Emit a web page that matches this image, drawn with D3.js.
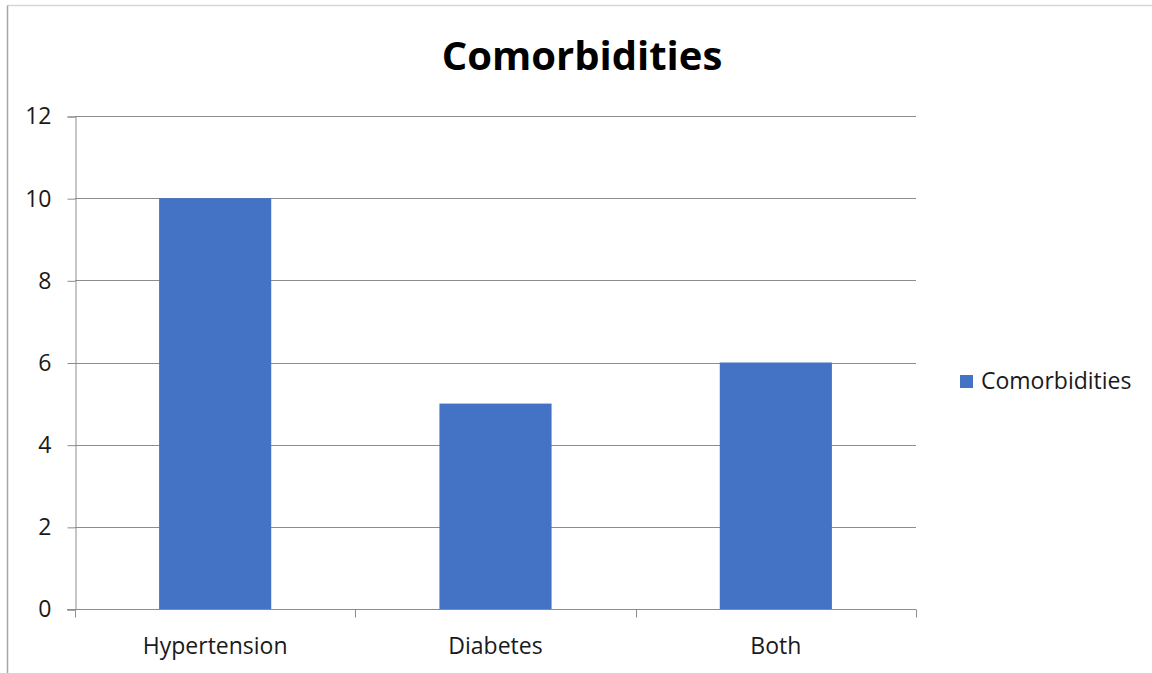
<!DOCTYPE html>
<html>
<head>
<meta charset="utf-8">
<script src="https://cdn.jsdelivr.net/npm/d3@7"></script>
<style>
  html, body { margin: 0; padding: 0; background: #fff; }
  svg { display: block; }
  text { font-family: "Open Sans", "Liberation Sans", sans-serif; fill: #1a1a1a; }
</style>
</head>
<body>
<svg id="chart" width="1152" height="673"></svg>
<script>
// Comorbidity counts
const categories = ["Hypertension", "Diabetes", "Both"];
const counts = [10, 5, 6];
const yTicks = [0, 2, 4, 6, 8, 10, 12];
const seriesName = "Comorbidities";
const chartTitle = "Comorbidities";

const svg = d3.select("#chart");
const W = 1152, H = 673;
const plot = { left: 75, right: 916, top: 116, bottom: 609 };
const barColor = "#4472c4";
const gridColor = "#8c8c8c";
const labelSize = "23px";

// Outer frame (top and left edges visible)
svg.append("line").attr("x1", 7.5).attr("x2", W).attr("y1", 5.5).attr("y2", 5.5)
  .attr("stroke", "#d6d6d6").attr("stroke-width", 1.5);
svg.append("line").attr("x1", 7.5).attr("x2", 7.5).attr("y1", 5.5).attr("y2", H)
  .attr("stroke", "#a6a6a6").attr("stroke-width", 1.5);

const x = d3.scaleBand().domain(categories).range([plot.left, plot.right]).paddingInner(0).paddingOuter(0);
const y = d3.scaleLinear().domain([0, 12]).range([plot.bottom, plot.top]);

// Horizontal gridlines
svg.append("g").selectAll("line").data(yTicks.filter(d => d > 0)).join("line")
  .attr("x1", plot.left).attr("x2", plot.right)
  .attr("y1", d => Math.round(y(d)) + 0.5).attr("y2", d => Math.round(y(d)) + 0.5)
  .attr("stroke", gridColor).attr("stroke-width", 1);

// Bars: width = band / (1 + 1.5 gap)
const barW = x.bandwidth() / 2.5;
svg.append("g").selectAll("rect").data(categories).join("rect")
  .attr("x", d => x(d) + (x.bandwidth() - barW) / 2)
  .attr("width", barW)
  .attr("y", (d, i) => y(counts[i]))
  .attr("height", (d, i) => y(0) - y(counts[i]))
  .attr("fill", barColor);

// Y axis
const yAxis = d3.axisLeft(y).tickValues(yTicks).tickSize(8).tickPadding(16).tickFormat(d3.format("d"));
const gy = svg.append("g").attr("transform", `translate(${plot.left + 0.5},0.5)`).call(yAxis);
gy.select(".domain").attr("stroke", gridColor);
gy.selectAll(".tick line").attr("stroke", gridColor);
gy.selectAll(".tick text").style("font-size", labelSize).style("font-family", "'Open Sans', sans-serif").attr("fill", "#1a1a1a");

// X axis with ticks between categories
const gx = svg.append("g").attr("transform", `translate(0,${plot.bottom + 0.5})`);
gx.append("line").attr("x1", plot.left - 8).attr("x2", plot.right).attr("stroke", gridColor);
const bounds = categories.map(c => x(c)).concat([plot.right]);
gx.selectAll("line.tk").data(bounds).join("line").attr("class", "tk")
  .attr("x1", d => Math.round(d) + 0.5).attr("x2", d => Math.round(d) + 0.5)
  .attr("y1", 0).attr("y2", 8).attr("stroke", gridColor);
gx.selectAll("text").data(categories).join("text")
  .attr("x", d => x(d) + x.bandwidth() / 2)
  .attr("y", 44)
  .attr("text-anchor", "middle")
  .style("font-size", labelSize)
  .text(d => d);

// Title
svg.append("text").attr("x", 582).attr("y", 70).attr("text-anchor", "middle")
  .style("font-size", "40px").style("font-weight", "bold").style("fill", "#000")
  .text(chartTitle);

// Legend
const lg = svg.append("g").attr("transform", "translate(960,375)");
lg.append("rect").attr("width", 13).attr("height", 13).attr("fill", barColor);
lg.append("text").attr("x", 21).attr("y", 14).style("font-size", labelSize).text(seriesName);
</script>
</body>
</html>
